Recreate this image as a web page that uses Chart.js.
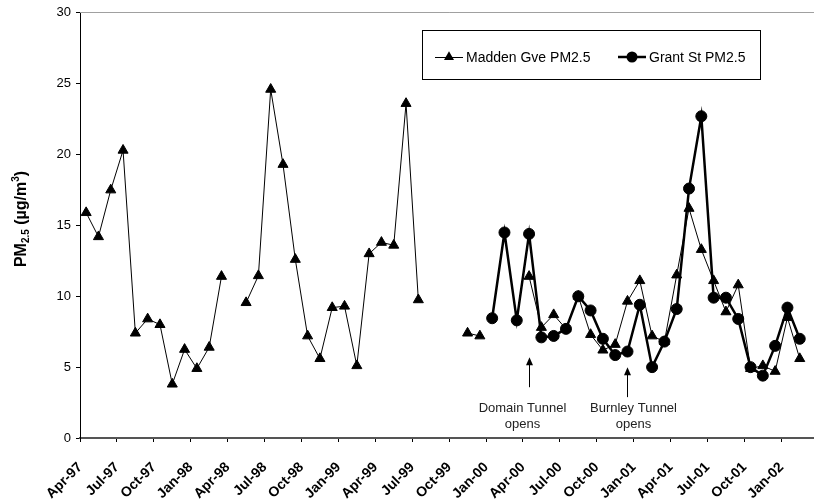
<!DOCTYPE html>
<html>
<head>
<meta charset="utf-8">
<script src="https://cdn.jsdelivr.net/npm/chart.js@4.4.1/dist/chart.umd.min.js"></script>
<style>
  html, body { margin: 0; padding: 0; background: #fff; overflow: hidden; }
  #wrap { width: 825px; height: 502px; }
</style>
</head>
<body>
<div id="wrap"><canvas id="pm-chart" width="825" height="502"></canvas></div>
<script>
// monthly samples, Apr-97 .. Mar-02
var months = [
  'Apr-97', 'May-97', 'Jun-97', 'Jul-97', 'Aug-97', 'Sep-97', 'Oct-97', 'Nov-97', 'Dec-97',
  'Jan-98', 'Feb-98', 'Mar-98', 'Apr-98', 'May-98', 'Jun-98', 'Jul-98', 'Aug-98', 'Sep-98', 'Oct-98', 'Nov-98', 'Dec-98',
  'Jan-99', 'Feb-99', 'Mar-99', 'Apr-99', 'May-99', 'Jun-99', 'Jul-99', 'Aug-99', 'Sep-99', 'Oct-99', 'Nov-99', 'Dec-99',
  'Jan-00', 'Feb-00', 'Mar-00', 'Apr-00', 'May-00', 'Jun-00', 'Jul-00', 'Aug-00', 'Sep-00', 'Oct-00', 'Nov-00', 'Dec-00',
  'Jan-01', 'Feb-01', 'Mar-01', 'Apr-01', 'May-01', 'Jun-01', 'Jul-01', 'Aug-01', 'Sep-01', 'Oct-01', 'Nov-01', 'Dec-01',
  'Jan-02', 'Feb-02', 'Mar-02'
];

var maddenGve = [
  15.9, 14.2, 17.5, 20.3, 7.4, 8.4, 8.0, 3.8, 6.25,
  4.9, 6.4, 11.4, null, 9.55, 11.45, 24.6, 19.3, 12.6, 7.2, 5.6, 9.2,
  9.3, 5.1, 13.0, 13.8, 13.6, 23.6, 9.75, null, null, null, 7.4, 7.2,
  null, null, null, 11.4, 7.8, 8.7, 7.7, 10.0, 7.3, 6.2, 6.6, 9.65,
  11.1, 7.2, 6.8, 11.5, 16.2, 13.3, 11.1, 8.9, 10.8, 4.9, 5.1, 4.7,
  8.5, 5.6, null
];

var grantSt = [
  null, null, null, null, null, null, null, null, null,
  null, null, null, null, null, null, null, null, null, null, null, null,
  null, null, null, null, null, null, null, null, null, null, null, null,
  8.45, 14.5, 8.3, 14.4, 7.1, 7.2, 7.7, 10.0, 9.0, 7.0, 5.85, 6.1,
  9.4, 5.0, 6.8, 9.1, 17.6, 22.7, 9.9, 9.9, 8.4, 5.0, 4.4, 6.5,
  9.2, 7.0, null
];

var seriesNames = ['Madden Gve PM2.5', 'Grant St PM2.5'];

// tunnel openings marked under the lines
var eventText = [['Domain Tunnel', 'opens'], ['Burnley Tunnel', 'opens']];
var eventMonth = ['Apr-00', 'Dec-00'];
var eventTip = [5.7, 5.0];

var FONT = '"Liberation Sans", Arial, sans-serif';

var pmDecor = {
  id: 'pmDecor',
  afterDraw: function (chart) {
    var ctx = chart.ctx;
    var area = chart.chartArea;
    var xs = chart.scales.x;
    var ys = chart.scales.y;

    ctx.save();
    // plot area top border
    ctx.strokeStyle = '#a0a0a0';
    ctx.lineWidth = 1;
    ctx.beginPath();
    ctx.moveTo(area.left, Math.round(area.top) - 0.5);
    ctx.lineTo(area.right, Math.round(area.top) - 0.5);
    ctx.stroke();

    // y axis title with sub/superscript
    ctx.fillStyle = '#000';
    ctx.textBaseline = 'alphabetic';
    ctx.textAlign = 'left';
    var parts = [
      { t: 'PM', f: 'bold 16px ' + FONT, dy: 0 },
      { t: '2.5', f: 'bold 10px ' + FONT, dy: 3 },
      { t: ' (\u00b5g/m', f: 'bold 16px ' + FONT, dy: 0 },
      { t: '3', f: 'bold 10px ' + FONT, dy: -7 },
      { t: ')', f: 'bold 16px ' + FONT, dy: 0 }
    ];
    var total = 0;
    parts.forEach(function (p) { ctx.font = p.f; p.w = ctx.measureText(p.t).width; total += p.w; });
    ctx.translate(26, 219);
    ctx.rotate(-Math.PI / 2);
    var px = -total / 2;
    parts.forEach(function (p) {
      ctx.font = p.f;
      ctx.fillText(p.t, px, p.dy);
      px += p.w;
    });
    ctx.setTransform(1, 0, 0, 1, 0, 0);

    // event arrows + captions
    var textDx = [-7, 6];
    eventMonth.forEach(function (m, i) {
      var x = Math.round(xs.getPixelForValue(months.indexOf(m))) + 0.5;
      var yTip = ys.getPixelForValue(eventTip[i]);
      var yEnd = yTip + 30;
      ctx.strokeStyle = '#000';
      ctx.lineWidth = 1;
      ctx.beginPath();
      ctx.moveTo(x, yEnd);
      ctx.lineTo(x, yTip + 6);
      ctx.stroke();
      ctx.fillStyle = '#000';
      ctx.beginPath();
      ctx.moveTo(x, yTip);
      ctx.lineTo(x - 3.5, yTip + 8);
      ctx.lineTo(x + 3.5, yTip + 8);
      ctx.closePath();
      ctx.fill();
      ctx.fillStyle = '#222';
      ctx.font = '13px ' + FONT;
      ctx.textAlign = 'center';
      ctx.textBaseline = 'middle';
      ctx.fillText(eventText[i][0], x + textDx[i], area.bottom - 30);
      ctx.fillText(eventText[i][1], x + textDx[i], area.bottom - 14);
    });

    // legend box
    ctx.fillStyle = '#fff';
    ctx.fillRect(422, 30, 338, 49);
    ctx.strokeStyle = '#000';
    ctx.lineWidth = 1;
    ctx.strokeRect(422.5, 30.5, 338, 49);
    var ly = 57;
    // Madden sample
    ctx.beginPath();
    ctx.moveTo(435, ly + 0.5);
    ctx.lineTo(463, ly + 0.5);
    ctx.stroke();
    var r = 5.8;
    ctx.fillStyle = '#000';
    ctx.beginPath();
    ctx.moveTo(449, ly - r);
    ctx.lineTo(449 + r * 0.866, ly + r / 2);
    ctx.lineTo(449 - r * 0.866, ly + r / 2);
    ctx.closePath();
    ctx.fill();
    // Grant sample
    ctx.lineWidth = 2.5;
    ctx.beginPath();
    ctx.moveTo(618, ly);
    ctx.lineTo(646, ly);
    ctx.stroke();
    ctx.beginPath();
    ctx.arc(632, ly, 5.5, 0, Math.PI * 2);
    ctx.fill();
    ctx.font = '14px ' + FONT;
    ctx.textAlign = 'left';
    ctx.textBaseline = 'middle';
    ctx.fillText(seriesNames[0], 466, ly + 1);
    ctx.fillText(seriesNames[1], 649, ly + 1);
    ctx.restore();
  }
};

var ctx = document.getElementById('pm-chart').getContext('2d');
var pmChart = new Chart(ctx, {
  type: 'line',
  data: {
    labels: months,
    datasets: [
      {
        label: seriesNames[1],
        data: grantSt,
        borderColor: '#000',
        backgroundColor: '#000',
        borderWidth: 2.5,
        pointStyle: 'circle',
        pointRadius: 5.5,
        pointBorderWidth: 1,
        tension: 0,
        order: 0
      },
      {
        label: seriesNames[0],
        data: maddenGve,
        borderColor: '#000',
        backgroundColor: '#000',
        borderWidth: 1,
        pointStyle: 'triangle',
        pointRadius: 5.8,
        pointBorderWidth: 1,
        tension: 0,
        order: 1
      }
    ]
  },
  options: {
    responsive: false,
    animation: false,
    layout: { padding: { top: 11, right: 0, bottom: 0, left: 0 } },
    plugins: {
      legend: { display: false },
      tooltip: { enabled: false }
    },
    scales: {
      x: {
        offset: true,
        grid: {
          offset: true,
          drawOnChartArea: false,
          drawTicks: true,
          tickLength: 4,
          tickColor: function (c) { return c.index % 3 === 0 ? '#000' : 'rgba(0,0,0,0)'; }
        },
        border: { display: true, color: '#555', width: 2 },
        ticks: {
          autoSkip: false,
          minRotation: 45,
          maxRotation: 45,
          padding: 17,
          labelOffset: -6,
          color: '#000',
          font: { family: FONT, size: 14, weight: 'bold' },
          callback: function (v, i) { return i % 3 === 0 ? months[i] : ''; }
        },
        afterFit: function (axis) {
          axis.height = 64;
          axis.paddingLeft = 0;
          axis.paddingRight = 0;
        }
      },
      y: {
        min: 0,
        max: 30,
        grid: {
          drawOnChartArea: false,
          drawTicks: true,
          tickLength: 4,
          tickColor: '#000'
        },
        border: { display: true, color: '#000', width: 1 },
        ticks: {
          stepSize: 5,
          padding: 5,
          color: '#000',
          font: { family: FONT, size: 13 }
        },
        afterFit: function (axis) { axis.width = 80; }
      }
    }
  },
  plugins: [pmDecor]
});
</script>
</body>
</html>
